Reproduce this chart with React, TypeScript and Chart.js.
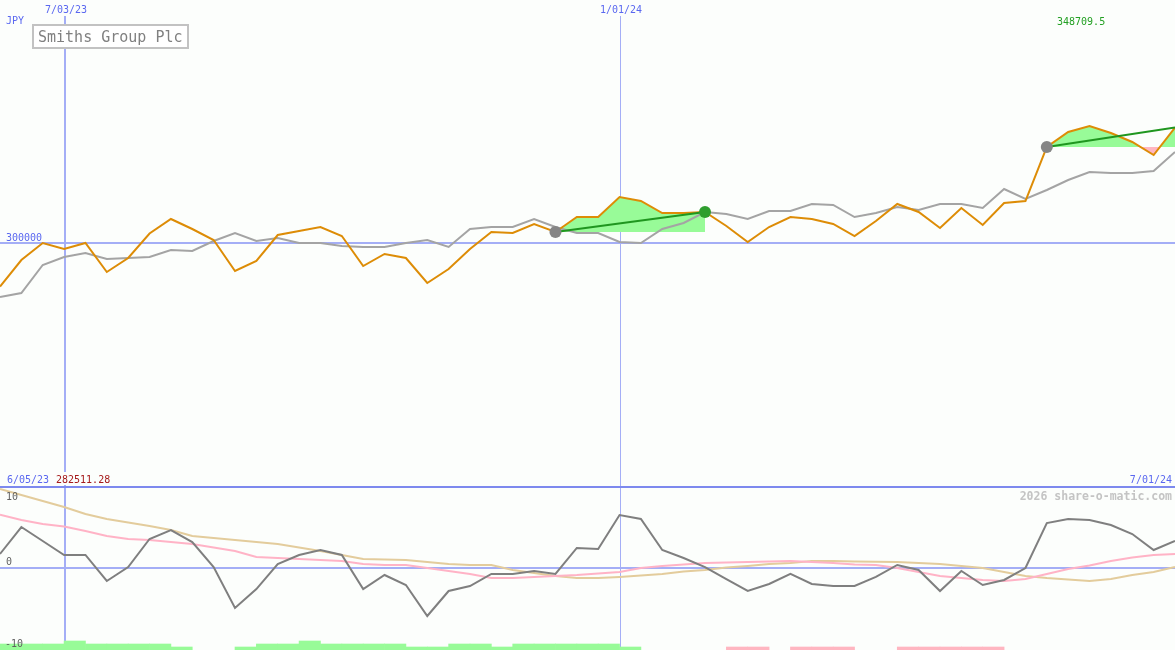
import { useEffect, useRef } from "react";
import { Chart, registerables } from "chart.js";
Chart.register(...registerables);

// ---- data (weekly points, index 0 = first visible week) ----
const currency = "JPY";
const title = "Smiths Group Plc";
const gridDateLabels = ["7/03/23", "1/01/24"];
const gridDateIndex = [3, 29];
const startDateLabel = "6/05/23";
const startValueLabel = "282511.28";
const endDateLabel = "7/01/24";
const lastValueLabel = "348709.5";
const priceGridValue = 300000;
const priceGridLabel = "300000";
const oscTickValues = [10, 0, -10];
const watermark = "2026 share-o-matic.com";

const price = [281813, 292969, 300126, 297600, 300126, 287917, 293811, 304126, 310230, 306020,
  301389, 288338, 292548, 303494, 305178, 306862, 303073, 290443, 295495, 293811,
  283286, 289180, 297600, 304757, 304336, 308125, 304757, 311072, 311072, 319492,
  317808, 312756, 312756, 313177, 307283, 300547, 306862, 311072, 310230, 308125,
  303073, 309388, 316545, 313177, 306441, 314861, 307704, 316966, 317808, 340542,
  346857, 349383, 346436, 342647, 337174, 348710];

const average = [277392, 279076, 290864, 294232, 295916, 293390, 293811, 294232, 297179, 296758,
  300968, 304336, 300968, 302231, 300126, 300126, 298863, 298442, 298442, 300126,
  301389, 298442, 306020, 306862, 306862, 310230, 306862, 304336, 304336, 300547,
  300126, 306020, 308546, 313177, 312335, 310230, 313598, 313598, 316545, 316124,
  311072, 312756, 315282, 314019, 316545, 316545, 314861, 322860, 318650, 322439,
  326649, 330017, 329596, 329596, 330438, 338437];

const oscillator = [1.78, 5.09, 3.37, 1.66, 1.66, -1.53, 0.18, 3.62, 4.72, 3.25,
  0.18, -4.85, -2.52, 0.55, 1.66, 2.27, 1.66, -2.52, -0.8, -2.03,
  -5.83, -2.76, -2.15, -0.67, -0.67, -0.31, -0.67, 2.52, 2.39, 6.56,
  6.07, 2.27, 1.29, 0.18, -1.29, -2.76, -1.9, -0.67, -1.9, -2.15,
  -2.15, -1.04, 0.43, -0.18, -2.76, -0.31, -2.03, -1.41, 0.06, 5.58,
  6.07, 5.95, 5.34, 4.23, 2.27, 3.37];

const signalPink = [6.6, 5.95, 5.46, 5.15, 4.6, 3.99, 3.62, 3.5, 3.25, 3.0,
  2.58, 2.15, 1.41, 1.29, 1.17, 1.04, 0.92, 0.55, 0.43, 0.43,
  0.06, -0.31, -0.67, -1.17, -1.17, -1.04, -0.92, -0.8, -0.61, -0.43,
  0.06, 0.31, 0.49, 0.67, 0.74, 0.8, 0.86, 0.92, 0.8, 0.67,
  0.49, 0.43, 0.06, -0.43, -0.92, -1.17, -1.41, -1.53, -1.29, -0.67,
  -0.06, 0.37, 0.92, 1.35, 1.66, 1.78];

const signalTan = [9.75, 9.02, 8.28, 7.55, 6.69, 6.07, 5.64, 5.21, 4.72, 3.99,
  3.74, 3.5, 3.25, 3.0, 2.58, 2.15, 1.66, 1.17, 1.1, 1.04,
  0.8, 0.55, 0.43, 0.43, -0.18, -0.55, -0.92, -1.17, -1.17, -1.04,
  -0.86, -0.67, -0.37, -0.18, 0.12, 0.31, 0.55, 0.67, 0.92, 0.92,
  0.86, 0.82, 0.8, 0.67, 0.55, 0.31, 0.06, -0.43, -0.92, -1.17,
  -1.35, -1.53, -1.29, -0.8, -0.43, 0.18];

const buyBars = [2, 2, 2, 3, 2, 2, 2, 2, 1, 0, 0, 1, 2, 2, 3, 2, 2, 2, 2, 1,
  1, 2, 2, 1, 2, 2, 2, 2, 2, 1, 0, 0, 0, 0, 0, 0, 0, 0, 0, 0,
  0, 0, 0, 0, 0, 0, 0, 0, 0, 0, 0, 0, 0, 0, 0, 0];
const sellBars = [0, 0, 0, 0, 0, 0, 0, 0, 0, 0, 0, 0, 0, 0, 0, 0, 0, 0, 0, 0,
  0, 0, 0, 0, 0, 0, 0, 0, 0, 0, 0, 0, 0, 0, 1, 1, 0, 1, 1, 1,
  0, 0, 1, 1, 1, 1, 1, 0, 0, 0, 0, 0, 0, 0, 0, 0];

const tradeEntry = [26, 49];
const tradeExit = [33, 55];
const tradeClosed = [true, false];

// ---- styles ----
const BG = "#fcfefc";
const LIGHT_BLUE = "#a4aef6";
const DIV_BLUE = "#7d89ee";
const LABEL_BLUE = "#5a68f0";
const MONO = '"DejaVu Sans Mono", "Liberation Mono", monospace';

export default function App() {
  const ref = useRef<HTMLCanvasElement>(null);
  useEffect(() => {
    document.body.style.margin = "0";
    document.body.style.background = BG;
    const canvas = ref.current;
    if (!canvas) return;

    const pts = (arr: number[], from = 0, to = arr.length - 1) => {
      const out: { x: number; y: number }[] = [];
      for (let i = from; i <= to; i++) out.push({ x: i, y: arr[i] });
      return out;
    };
    const barPts = (arr: number[]) =>
      arr.map((v, i) => ({ x: i + 0.5, y: v > 0 ? v : null }));

    const datasets: any[] = [];
    // markers
    const entryMarks = tradeEntry.map((i) => ({ x: i, y: price[i] }));
    const exitMarks = tradeExit.filter((_, k) => tradeClosed[k]).map((i) => ({ x: i, y: price[i] }));
    datasets.push({
      type: "line", data: entryMarks, yAxisID: "yP", showLine: false, order: 0,
      pointRadius: 6, pointBackgroundColor: "#858585", pointBorderWidth: 0, borderColor: "#858585",
    });
    datasets.push({
      type: "line", data: exitMarks, yAxisID: "yP", showLine: false, order: 0,
      pointRadius: 6, pointBackgroundColor: "#2e9e2e", pointBorderWidth: 0, borderColor: "#2e9e2e",
    });
    // trade lines
    tradeEntry.forEach((e, k) => {
      const x2 = tradeExit[k];
      datasets.push({
        type: "line", data: [{ x: e, y: price[e] }, { x: x2, y: price[x2] }], yAxisID: "yP",
        borderColor: "#1f961f", borderWidth: 2, pointRadius: 0, order: 1,
      });
      datasets.push({
        type: "line", data: pts(price, e, x2), yAxisID: "yP",
        borderWidth: 0, borderColor: "rgba(0,0,0,0)", pointRadius: 0, order: 5,
        fill: { target: { value: price[e] }, above: "#98fb98", below: "#ffb6c1" },
      });
    });
    datasets.push({
      type: "line", data: pts(price), yAxisID: "yP", borderColor: "#dd8c06", borderWidth: 2,
      pointRadius: 0, order: 2,
    });
    datasets.push({
      type: "line", data: pts(average), yAxisID: "yP", borderColor: "#a4a4a4", borderWidth: 2,
      pointRadius: 0, order: 3,
    });
    datasets.push({
      type: "line", data: pts(oscillator), yAxisID: "yO", borderColor: "#7f7f7f", borderWidth: 2,
      pointRadius: 0, order: 2,
    });
    datasets.push({
      type: "line", data: pts(signalPink), yAxisID: "yO", borderColor: "#ffb3c6", borderWidth: 2,
      pointRadius: 0, order: 3,
    });
    datasets.push({
      type: "line", data: pts(signalTan), yAxisID: "yO", borderColor: "#e3cc9c", borderWidth: 2,
      pointRadius: 0, order: 4,
    });
    datasets.push({
      type: "bar", data: barPts(buyBars), yAxisID: "yB", backgroundColor: "#98fb98",
      barPercentage: 1, categoryPercentage: 1, grouped: false, borderWidth: 0, order: 6,
    });
    datasets.push({
      type: "bar", data: barPts(sellBars), yAxisID: "yB", backgroundColor: "#ffb6c1",
      barPercentage: 1, categoryPercentage: 1, grouped: false, borderWidth: 0, order: 6,
    });

    const decor = {
      id: "decor",
      beforeDraw(chart: any) {
        const c = chart.ctx;
        c.save();
        c.fillStyle = BG;
        c.fillRect(0, 0, chart.width, chart.height);
        c.restore();
      },
      beforeDatasetsDraw(chart: any) {
        const c = chart.ctx;
        const { x, yP, yO } = chart.scales;
        const area = chart.chartArea;
        c.save();
        // vertical date lines
        gridDateIndex.forEach((gi, k) => {
          const px = Math.ceil(x.getPixelForValue(gi));
          c.strokeStyle = LIGHT_BLUE;
          c.lineWidth = k === 0 ? 2 : 1;
          const xx = k === 0 ? px : px + 0.5;
          c.beginPath();
          c.moveTo(xx, 16);
          c.lineTo(xx, area.bottom);
          c.stroke();
        });
        // price grid line
        const gy = Math.round(yP.getPixelForValue(priceGridValue));
        c.strokeStyle = LIGHT_BLUE;
        c.lineWidth = 2;
        c.beginPath();
        c.moveTo(area.left, gy);
        c.lineTo(area.right, gy);
        c.stroke();
        // oscillator zero line
        const zy = Math.round(yO.getPixelForValue(0));
        c.beginPath();
        c.moveTo(area.left, zy);
        c.lineTo(area.right, zy);
        c.stroke();
        // panel divider (top of oscillator range)
        const dy = Math.round(yO.getPixelForValue(oscTickValues[0]));
        c.strokeStyle = DIV_BLUE;
        c.beginPath();
        c.moveTo(area.left, dy);
        c.lineTo(area.right, dy);
        c.stroke();
        c.restore();
      },
      afterDatasetsDraw(chart: any) {
        const c = chart.ctx;
        const { x, yP, yO } = chart.scales;
        const area = chart.chartArea;
        c.save();
        c.textBaseline = "alphabetic";
        c.font = `10px ${MONO}`;
        // top date labels
        c.fillStyle = LABEL_BLUE;
        c.textAlign = "center";
        gridDateIndex.forEach((gi, k) => {
          const px = Math.ceil(x.getPixelForValue(gi)) + 1;
          c.fillText(gridDateLabels[k], px, 13);
        });
        c.textAlign = "left";
        c.fillText(currency, 6, 24);
        // price grid label
        const gy = yP.getPixelForValue(priceGridValue);
        c.fillText(priceGridLabel, 6, gy - 2);
        // last value
        c.fillStyle = "#23a023";
        c.fillText(lastValueLabel, 1057, 25);
        // bottom of price panel labels
        const dy = yO.getPixelForValue(oscTickValues[0]);
        c.fillStyle = BG;
        c.fillRect(0, dy - 15, 112, 13);
        c.fillStyle = LABEL_BLUE;
        c.fillText(startDateLabel, 7, dy - 4);
        c.fillStyle = "#a51a1a";
        c.fillText(startValueLabel, 56, dy - 4);
        c.fillStyle = LABEL_BLUE;
        c.textAlign = "right";
        c.fillText(endDateLabel, area.right - 3, dy - 4);
        // oscillator ticks
        c.textAlign = "left";
        c.fillStyle = "#606060";
        oscTickValues.forEach((v, k) => {
          const py = yO.getPixelForValue(v);
          const base = k === 0 ? py + 13 : py - 3;
          c.fillText(String(v), v < 0 ? 5 : 6, base);
        });
        // watermark
        c.font = `bold 11.5px ${MONO}`;
        c.fillStyle = "#c4c4c4";
        c.textAlign = "right";
        c.fillText(watermark, area.right - 3, dy + 13);
        // title box
        c.fillStyle = "#ffffff";
        c.fillRect(33, 25, 155, 23);
        c.strokeStyle = "#c2c2c2";
        c.lineWidth = 2;
        c.strokeRect(33, 25, 155, 23);
        c.font = `15px ${MONO}`;
        c.fillStyle = "#808080";
        c.textAlign = "left";
        c.fillText(title, 38, 42);
        c.restore();
      },
    };

    const chart = new Chart(canvas, {
      type: "line",
      data: { datasets },
      options: {
        animation: false,
        responsive: false,
        devicePixelRatio: 1,
        events: [],
        layout: { padding: 0, autoPadding: false },
        elements: { line: { tension: 0 } },
        plugins: { legend: { display: false }, tooltip: { enabled: false }, title: { display: false } },
        scales: {
          x: { type: "linear", min: 0, max: 55, display: false, offset: false },
          yP: { type: "linear", min: 128779, max: 402429, display: false },
          yO: { type: "linear", min: -10, max: 69.75, display: false },
          yB: { type: "linear", min: 0, max: 650 / 3, display: false },
        },
      } as any,
      plugins: [decor],
    });
    return () => chart.destroy();
  }, []);
  return <canvas ref={ref} width={1175} height={650} style={{ display: "block", width: 1175, height: 650 }} />;
}
